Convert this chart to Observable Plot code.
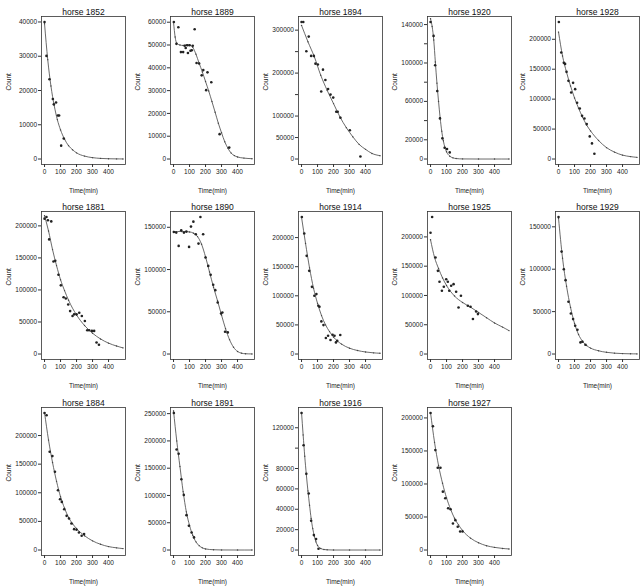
<!DOCTYPE html>
<html><head><meta charset="utf-8">
<script src="https://cdn.jsdelivr.net/npm/d3@7"></script>
<script src="https://cdn.jsdelivr.net/npm/@observablehq/plot@0.6"></script>
<style>
body{margin:0;background:#fff;}
#grid{position:relative;width:643px;height:586px;background:#fff;overflow:hidden;}
.panel{position:absolute;}
.panel svg{overflow:visible;}
</style></head><body><div id="grid"></div><script>
// ---- data ----
const xTicks = [0, 100, 200, 300, 400];

const t1852 = [0,12,31,52,58,72,83,91,104,120];
const n1852 = [40000,30100,23300,17500,16000,16500,12700,12700,3900,6000];
const ft1852 = [0,20,40,60,80,100,125,150,175,200,250,300,350,400,450,490];
const fn1852 = [39500,29000,21300,15700,11500,8500,5800,3900,2700,1800,850,400,180,80,40,20];
const yt1852 = [0,10000,20000,30000,40000];
const yh1852 = [];

const t1889 = [2,18,30,46,60,70,76,86,90,100,106,114,120,132,144,160,176,186,204,212,236,288,348];
const n1889 = [60100,50500,57800,46900,46900,49700,48700,49900,46500,49900,47500,47700,49700,56900,42100,41900,36700,39000,30200,38000,33700,10900,5000];
const ft1889 = [0,10,20,40,60,80,100,120,140,160,180,200,220,240,260,280,300,320,340,360,380,400,440,490];
const fn1889 = [60000,53500,50800,50000,49800,50000,50000,49000,46000,42000,38200,34000,29800,25200,20500,15700,11500,7600,4700,2600,1500,900,400,150];
const yt1889 = [0,10000,20000,30000,40000,50000,60000];
const yh1889 = [];

const t1894 = [0,11,30,45,60,77,87,102,123,134,149,166,181,198,217,226,243,302,368];
const n1894 = [319000,319000,251000,285000,240000,240000,222000,220000,157000,208000,184000,163000,150000,143000,110000,110000,96000,67000,6000];
const ft1894 = [0,40,80,120,160,200,240,280,320,360,400,440,490];
const fn1894 = [311000,273000,238000,195000,160000,129000,98000,73000,52000,34000,22500,13000,7800];
const yt1894 = [0,50000,100000,150000,200000,250000,300000];
const yh1894 = [150000,250000];

const t1920 = [0,19,29,42,59,74,88,103,120];
const n1920 = [142700,128200,97700,70700,42300,21500,11800,10400,6900];
const ft1920 = [0,10,20,30,40,50,60,70,80,90,100,120,140,160,200,300,400,490];
const fn1920 = [146000,138000,124000,101000,79000,60000,43000,29000,19000,12000,7500,3000,1200,500,100,0,0,0];
const yt1920 = [0,20000,40000,60000,80000,100000,120000,140000];
const yh1920 = [40000,80000,120000];

const t1928 = [2,17,33,41,50,62,79,91,104,116,133,147,162,176,195,209,224];
const n1928 = [228900,177800,160600,158900,145600,130600,111100,127200,116700,93900,84400,72200,67800,58300,37800,26100,8900];
const ft1928 = [0,25,50,75,100,125,150,175,200,250,300,350,400,450,490];
const fn1928 = [212000,172000,145000,122000,102000,85000,70000,57000,47000,31000,19000,11500,6500,4000,2800];
const yt1928 = [0,50000,100000,150000,200000];
const yh1928 = [];

const t1881 = [0,12,21,29,42,56,67,87,102,119,133,148,160,175,185,200,217,233,252,267,279,296,310,325,340];
const n1881 = [211300,213900,208800,178900,207000,144300,145400,123700,107200,88700,86600,77300,67000,59300,61900,61900,64400,59300,51500,37100,37100,36100,36100,18000,14400];
const ft1881 = [0,25,50,75,100,125,150,200,250,300,350,400,450,490];
const fn1881 = [216000,192000,163000,138000,116000,99000,84000,61000,44500,32500,23500,17000,12500,9600];
const yt1881 = [0,50000,100000,150000,200000];
const yh1881 = [];

const t1890 = [2,17,32,48,65,80,97,109,124,139,156,168,185,200,217,232,248,261,276,297,305,322,339];
const n1890 = [144500,143700,128000,146500,143700,144900,126800,150800,156700,141700,130700,162200,141700,114200,104300,93700,81900,75600,61000,48000,49200,26400,25600];
const ft1890 = [0,50,100,125,150,175,200,225,250,275,300,325,350,375,400,425,450,490];
const fn1890 = [145000,145000,144500,143000,139000,130000,115000,97000,79000,63000,46000,30000,17000,8000,3000,1000,300,100];
const yt1890 = [0,50000,100000,150000];
const yh1890 = [];

const t1914 = [2,17,32,48,65,80,93,105,112,124,137,152,166,181,194,206,215,223,242];
const n1914 = [235400,206900,168600,142900,115400,100000,102900,82900,81100,56000,49700,27400,31400,24000,33100,31400,20000,22900,32600];
const ft1914 = [0,25,50,75,100,125,150,175,200,250,300,350,400,450,490];
const fn1914 = [235000,190000,148000,113000,87000,66000,50000,38500,29000,17000,10000,6000,3500,2000,1300];
const yt1914 = [0,50000,100000,150000,200000];
const yh1914 = [];

const t1925 = [0,10,31,46,56,71,83,98,108,117,129,144,160,175,190,233,250,265,285,296];
const n1925 = [207000,234000,164800,142000,123300,108000,114800,127800,123300,108000,116500,119300,106300,79500,99400,82400,80700,59700,72700,68200];
const ft1925 = [0,25,50,75,100,150,200,250,300,350,400,450,490];
const fn1925 = [195000,165000,146000,130000,117000,99000,88000,80000,71000,62000,53000,46000,40000];
const yt1925 = [0,50000,100000,150000,200000];
const yh1925 = [];

const t1929 = [0,19,33,44,62,77,91,104,118,137,149,168];
const n1929 = [161600,120800,100000,87100,61600,47800,41200,33300,28600,13700,14500,11000];
const ft1929 = [0,25,50,75,100,125,150,175,200,250,300,350,400,450,490];
const fn1929 = [160000,113000,80000,55000,36000,23000,15000,10000,7000,3800,2000,1000,500,250,150];
const yt1929 = [0,50000,100000,150000];
const yh1929 = [];

const t1884 = [0,13,32,49,65,84,97,108,123,138,153,168,185,200,215,232,247];
const n1884 = [239400,235400,171600,164100,136800,104300,88700,84100,71300,59700,55100,46400,36500,35400,30700,24900,27800];
const ft1884 = [0,25,50,75,100,125,150,175,200,250,300,350,400,450,490];
const fn1884 = [240000,192000,153000,120000,93000,73000,57000,46000,37500,25000,16000,10000,6000,3800,2500];
const yt1884 = [0,50000,100000,150000,200000];
const yh1884 = [];

const t1891 = [2,19,32,49,64,81,96,113,128];
const n1891 = [251200,184300,176400,129600,101000,63900,44400,32200,23100];
const ft1891 = [0,20,40,60,80,100,120,140,160,180,200,250,300,400,490];
const fn1891 = [255000,200000,153000,107000,70000,45000,27000,15000,8000,4000,2000,500,100,0,0];
const yt1891 = [0,50000,100000,150000,200000,250000];
const yh1891 = [];

const t1916 = [0,13,30,45,60,77,91,106];
const n1916 = [134500,102900,74900,55400,28700,14700,10700,1300];
const ft1916 = [0,10,20,30,40,50,60,70,80,90,100,120,140,160,200,300,400,490];
const fn1916 = [135000,113000,92000,74000,58000,44000,31000,21000,13500,8000,4500,1500,500,200,0,0,0,0];
const yt1916 = [0,20000,40000,60000,80000,100000,120000];
const yh1916 = [100000];

const t1927 = [0,15,30,45,62,77,92,110,125,140,155,170,185,200];
const n1927 = [207500,187400,151300,124600,124600,88400,78400,63300,61800,40200,45200,35200,28100,28100];
const ft1927 = [0,25,50,75,100,125,150,175,200,250,300,350,400,450,490];
const fn1927 = [208000,163000,128000,101000,79000,62000,48000,38000,29500,18000,11000,6500,4000,2400,1600];
const yt1927 = [0,50000,100000,150000,200000];
const yh1927 = [];

const layout = [
  ["1852","1889","1894","1920","1928"],
  ["1881","1890","1914","1925","1929"],
  ["1884","1891","1916","1927"]
];

const series = {
  "1852": {t:t1852, n:n1852, ft:ft1852, fn:fn1852, ticks:yt1852, hidden:yh1852},
  "1889": {t:t1889, n:n1889, ft:ft1889, fn:fn1889, ticks:yt1889, hidden:yh1889},
  "1894": {t:t1894, n:n1894, ft:ft1894, fn:fn1894, ticks:yt1894, hidden:yh1894},
  "1920": {t:t1920, n:n1920, ft:ft1920, fn:fn1920, ticks:yt1920, hidden:yh1920},
  "1928": {t:t1928, n:n1928, ft:ft1928, fn:fn1928, ticks:yt1928, hidden:yh1928},
  "1881": {t:t1881, n:n1881, ft:ft1881, fn:fn1881, ticks:yt1881, hidden:yh1881},
  "1890": {t:t1890, n:n1890, ft:ft1890, fn:fn1890, ticks:yt1890, hidden:yh1890},
  "1914": {t:t1914, n:n1914, ft:ft1914, fn:fn1914, ticks:yt1914, hidden:yh1914},
  "1925": {t:t1925, n:n1925, ft:ft1925, fn:fn1925, ticks:yt1925, hidden:yh1925},
  "1929": {t:t1929, n:n1929, ft:ft1929, fn:fn1929, ticks:yt1929, hidden:yh1929},
  "1884": {t:t1884, n:n1884, ft:ft1884, fn:fn1884, ticks:yt1884, hidden:yh1884},
  "1891": {t:t1891, n:n1891, ft:ft1891, fn:fn1891, ticks:yt1891, hidden:yh1891},
  "1916": {t:t1916, n:n1916, ft:ft1916, fn:fn1916, ticks:yt1916, hidden:yh1916},
  "1927": {t:t1927, n:n1927, ft:ft1927, fn:fn1927, ticks:yt1927, hidden:yh1927}
};

const FONT = "'Liberation Sans', Arial, Helvetica, sans-serif";
const colW = 643 / 5, rowH = 586 / 3;

function panel(id) {
  const s = series[id];
  const pts = s.t.map((t, i) => ({t, n: s.n[i]}));
  const fit = s.ft.map((t, i) => ({t, n: s.fn[i]}));
  const ymax = d3.max(s.n), ymin = Math.min(0, d3.min(s.n));
  const pad = 0.04 * (ymax - ymin);
  return Plot.plot({
    width: 128, height: 195,
    marginLeft: 41, marginRight: 3, marginTop: 16, marginBottom: 31,
    style: {fontFamily: FONT, fontSize: "6.5px", color: "#222", background: "white", overflow: "visible"},
    x: {domain: [-19, 506]},
    y: {domain: [ymin - pad, ymax + pad]},
    marks: [
      Plot.frame({stroke: "#333", strokeWidth: 0.8}),
      Plot.axisX({ticks: xTicks, tickSize: 3, tickPadding: 2, tickFormat: d => String(d), label: null, stroke: "#333"}),
      Plot.axisY({ticks: s.ticks, tickSize: 3, tickPadding: 1.5, tickFormat: d => s.hidden.includes(d) ? "" : String(d), label: null, stroke: "#333"}),
      Plot.line(fit, {x: "t", y: "n", curve: "monotone-x", stroke: "#444", strokeWidth: 0.8}),
      Plot.dot(fit, {x: "t", y: "n", r: 0.7, fill: "#444"}),
      Plot.dot(pts, {x: "t", y: "n", r: 1.3, fill: "#222"}),
      Plot.text([`horse ${id}`], {text: d => d, frameAnchor: "top", dy: -8, fontSize: 8.5, fill: "#111"}),
      Plot.text(["Count"], {text: d => d, frameAnchor: "left", dx: -33, rotate: -90, fontSize: 6.5, fill: "#222"}),
      Plot.text(["Time(min)"], {text: d => d, frameAnchor: "bottom", dy: 28, fontSize: 6.5, fill: "#222"})
    ]
  });
}

const grid = document.getElementById("grid");
layout.forEach((row, r) => {
  row.forEach((id, c) => {
    const div = document.createElement("div");
    div.className = "panel";
    div.style.left = Math.round(c * colW) + "px";
    div.style.top = Math.round(r * rowH) + "px";
    div.appendChild(panel(id));
    grid.appendChild(div);
  });
});
</script></body></html>
